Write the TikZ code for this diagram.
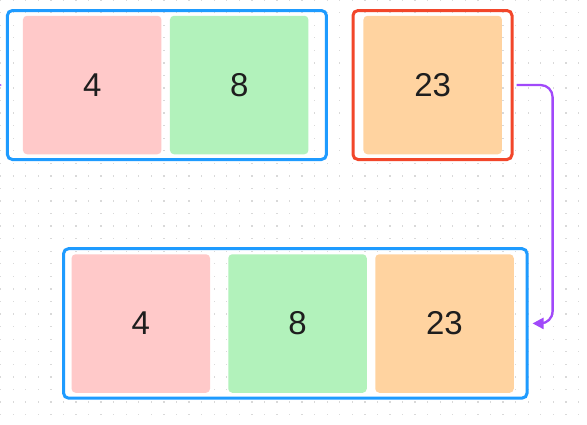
\documentclass[tikz,border=0pt]{standalone}
\usepackage{fontspec}
\setmainfont{Liberation Sans}
\usepackage{xcolor}
\usepackage{tikz}
\usetikzlibrary{arrows.meta}

\definecolor{cellred}{HTML}{FFC9C9}
\definecolor{cellgreen}{HTML}{B2F2BB}
\definecolor{cellorange}{HTML}{FFD3A0}
\definecolor{groupblue}{HTML}{1E9BFF}
\definecolor{groupred}{HTML}{F2462A}
\definecolor{linkpurple}{HTML}{A149FA}
\definecolor{griddot}{HTML}{D9D9D9}
\definecolor{digit}{HTML}{1E1E1E}

\begin{document}
\begin{tikzpicture}[x=1pt, y=-1pt,
    cell/.style={inner sep=0pt, minimum width=138.5pt, minimum height=138.5pt, rounded corners=4pt, text=digit, font=\fontsize{33}{36}\selectfont},
    group/.style={draw, line width=3pt, rounded corners=5pt, inner sep=0pt},
    link/.style={draw=linkpurple, line width=2.3pt, rounded corners=12pt, -{Triangle[length=11pt, width=11pt]}}]
            \useasboundingbox (0,0) rectangle (587,424);
            \clip (0,0) rectangle (587,424);
            \fill[white] (0,0) rectangle (587,424);
            \foreach \i in {0,...,46}
                \foreach \j in {0,...,33}
                    \fill[griddot] (12.56*\i, 12.56*\j-0.6) rectangle ++(1.3,1.3);

            \node[group, draw=groupblue, minimum width=319pt, minimum height=149pt] (top) at (166.9, 85) {};
            \node[group, draw=groupred, minimum width=159pt, minimum height=149pt] (single) at (432.5, 85) {};
            \node[group, draw=groupblue, minimum width=463.5pt, minimum height=149.5pt] (merged) at (295.3, 323.4) {};

            \node[cell, fill=cellred] (a1) at (92.2, 85) {4};
            \node[cell, fill=cellgreen] (a2) at (239.2, 85) {8};
            \node[cell, fill=cellorange] (b1) at (432.7, 85) {23};

            \node[cell, fill=cellred] (c1) at (140.8, 323.5) {4};
            \node[cell, fill=cellgreen] (c2) at (297.5, 323.5) {8};
            \node[cell, fill=cellorange] (c3) at (444.5, 323.5) {23};

            \coordinate (incoming) at (-40, 85);
            \coordinate (turn) at (552.6, 200);

            \draw[link, shorten >=4pt] (incoming) -- (top.west);
            \draw[link, shorten <=3pt, shorten >=4pt] (single.east) -| (turn) |- (merged.east);
        \end{tikzpicture}
\end{document}
